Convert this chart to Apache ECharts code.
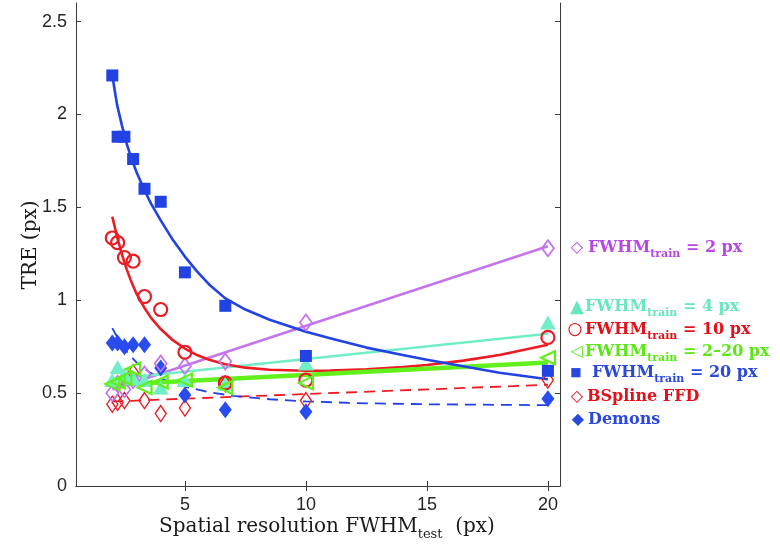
<!DOCTYPE html>
<html>
<head>
<meta charset="utf-8">
<script src="https://cdn.jsdelivr.net/npm/echarts@6/dist/echarts.min.js"></script>
<style>html,body{margin:0;padding:0;background:#fff;}#c{width:780px;height:553px;}</style>
</head>
<body>
<div id="c"></div>
<script>
// ---- data ----
const xTest = [2, 2.22, 2.5, 2.86, 3.33, 4, 5, 6.67, 10, 20];
const tre2 = [0.50, 0.55, 0.52, 0.57, 0.60, 0.66, 0.645, 0.67, 0.88, 1.28];
const tre4 = [0.57, 0.64, 0.60, 0.58, 0.57, 0.53, 0.57, 0.55, 0.66, 0.88];
const tre10 = [1.335, 1.31, 1.23, 1.21, 1.02, 0.95, 0.72, 0.555, 0.57, 0.80];
const tre2to20 = [0.55, 0.56, 0.58, 0.63, 0.53, 0.56, 0.57, 0.53, 0.555, 0.69];
const tre20 = [2.21, 1.88, 1.88, 1.76, 1.60, 1.53, 1.15, 0.97, 0.70, 0.62];
const treBspline = [0.44, 0.45, 0.46, 0.61, 0.46, 0.39, 0.42, 0.55, 0.46, 0.57];
const treDemons = [0.77, 0.77, 0.75, 0.76, 0.76, 0.635, 0.49, 0.41, 0.40, 0.47];

// fitted trend curves
const fitX20 = [2, 2.2, 2.4, 2.6, 2.8, 3.0, 3.3, 3.6, 4, 4.5, 5, 5.5, 6, 6.67, 7.5, 8.5, 10, 11, 12.5, 14, 15, 16.5, 18, 20];
const fit20 = [2.21, 2.05, 1.94, 1.84, 1.76, 1.69, 1.60, 1.52, 1.43, 1.325, 1.235, 1.155, 1.085, 1.01, 0.95, 0.895, 0.83, 0.795, 0.745, 0.705, 0.68, 0.645, 0.61, 0.575];
const fitX10 = [2, 2.2, 2.4, 2.6, 2.8, 3.0, 3.3, 3.6, 4, 4.5, 5, 5.5, 6, 6.67, 7.5, 8.5, 10, 11, 12.5, 14, 15, 16.5, 18, 20];
const fit10 = [1.45, 1.34, 1.245, 1.165, 1.095, 1.035, 0.965, 0.905, 0.845, 0.785, 0.74, 0.705, 0.68, 0.655, 0.637, 0.626, 0.62, 0.621, 0.628, 0.64, 0.651, 0.675, 0.705, 0.76];
const fitXDemons = [2, 2.25, 2.5, 2.75, 3, 3.5, 4, 4.5, 5, 6, 7, 8.5, 10, 12.5, 15, 20];
const fitDemons = [0.85, 0.79, 0.74, 0.70, 0.665, 0.615, 0.58, 0.555, 0.535, 0.505, 0.485, 0.467, 0.455, 0.445, 0.44, 0.435];
const fitXLin = [2, 20];
const fit2 = [0.52, 1.29];
const fit4 = [0.575, 0.82];
const fit2to20 = [0.545, 0.665];
const fitBspline = [0.455, 0.545];

const xTicks = [5, 10, 15, 20];
const yTicks = [0, 0.5, 1, 1.5, 2, 2.5];

const C = {
  violet: '#c474ec', teal: '#72eec6', red: '#ec1c24', green: '#62f01c',
  blue: '#2242e4', demons: '#2a4cee'
};

function pairs(xs, ys) { return xs.map((x, i) => [x, ys[i]]); }

const tickFont = { fontFamily: 'Liberation Sans', fontSize: 18, color: '#262626' };

function fitLine(xs, ys, color, width, dashed) {
  return {
    type: 'line', data: pairs(xs, ys), showSymbol: false, smooth: false,
    lineStyle: { color: color, width: width, type: dashed ? [11, 7] : 'solid', join: 'round', cap: 'butt' },
    silent: true, z: 2
  };
}
function marks(ys, symbol, size, fill, border, bw, rotate) {
  return {
    type: 'scatter', data: pairs(xTest, ys), symbol: symbol, symbolSize: size,
    symbolRotate: rotate || 0,
    itemStyle: { color: fill, borderColor: border, borderWidth: bw, opacity: 1 },
    silent: true, z: 3
  };
}

const series = [
  fitLine(fitXLin, fitBspline, C.red, 1.8, true),
  fitLine(fitXDemons, fitDemons, C.blue, 1.8, true),
  fitLine(fitXLin, fit2, C.violet, 2.6, false),
  fitLine(fitXLin, fit4, C.teal, 2.6, false),
  fitLine(fitX10, fit10, C.red, 2.6, false),
  fitLine(fitXLin, fit2to20, C.green, 4.5, false),
  fitLine(fitX20, fit20, C.blue, 2.6, false),
  marks(treBspline, 'diamond', [11, 16], 'transparent', C.red, 1.4),
  marks(treDemons, 'diamond', [13, 17], C.demons, C.demons, 0),
  marks(tre2, 'diamond', [12, 16], 'transparent', C.violet, 1.8),
  marks(tre4, 'triangle', [16, 14], C.teal, C.teal, 0),
  marks(tre10, 'circle', 13, 'transparent', C.red, 2.2),
  marks(tre2to20, 'triangle', [13, 14], 'transparent', C.green, 2.2, 90),
  marks(tre20, 'rect', 12, C.blue, C.blue, 0)
];

function legendEntry(sym, symSize, symX, textX, y, color, main, sub, rest) {
  const items = [{
    type: 'text', x: symX, y: y, silent: true,
    style: { text: sym, fill: color, fontFamily: 'DejaVu Sans', fontSize: symSize,
             textAlign: 'center', textVerticalAlign: 'middle' }
  }];
  let txt = '{m|' + main + '}';
  if (sub) txt += '{b|' + sub + '}';
  if (rest) txt += '{m|' + rest + '}';
  items.push({
    type: 'text', x: textX, y: y, silent: true,
    style: {
      text: txt, textAlign: 'left', textVerticalAlign: 'middle',
      rich: {
        m: { fill: color, fontFamily: 'DejaVu Serif', fontWeight: 'bold', fontSize: 16, lineHeight: 24 },
        b: { fill: color, fontFamily: 'DejaVu Serif', fontWeight: 'bold', fontSize: 11, lineHeight: 12, verticalAlign: 'bottom' }
      }
    }
  });
  return items;
}

const legendGraphics = [].concat(
  legendEntry('\u25C7', 16, 577, 588, 248, '#b548e6', 'FWHM', 'train', ' = 2 px'),
  legendEntry('\u25B2', 18, 577, 585, 307, '#68e6bd', 'FWHM', 'train', ' = 4 px'),
  legendEntry('\u25CB', 17, 575, 585, 330, '#e3121a', 'FWHM', 'train', ' = 10 px'),
  legendEntry('\u25C1', 16, 577, 585, 352, '#5ce818', 'FWHM', 'train', ' = 2\u201320 px'),
  legendEntry('\u25A0', 12, 576, 592, 373, '#2a48dc', 'FWHM', 'train', ' = 20 px'),
  legendEntry('\u25C7', 16, 577, 587, 397, '#e3121a', 'BSpline FFD', '', ''),
  legendEntry('\u25C6', 16, 578, 588, 420, '#2a48dc', 'Demons', '', '')
);

const titles = [
  {
    type: 'text', x: 327, y: 527, silent: true,
    style: {
      text: '{m|Spatial resolution FWHM}{b|test}{m|  (px)}',
      textAlign: 'center', textVerticalAlign: 'middle',
      rich: {
        m: { fill: '#1a1a1a', fontFamily: 'DejaVu Serif', fontSize: 20, lineHeight: 28 },
        b: { fill: '#1a1a1a', fontFamily: 'DejaVu Serif', fontSize: 13, lineHeight: 14, verticalAlign: 'bottom' }
      }
    }
  },
  {
    type: 'text', x: 31, y: 245, rotation: Math.PI / 2, silent: true,
    style: { text: 'TRE (px)', fill: '#1a1a1a', fontFamily: 'DejaVu Serif', fontSize: 20,
             textAlign: 'center', textVerticalAlign: 'middle' }
  }
];

const axisLineStyle = { show: true, lineStyle: { color: '#3a3a3a', width: 1 } };

const option = {
  animation: false,
  backgroundColor: '#fff',
  grid: { left: 76, right: 220, top: 3, bottom: 67, containLabel: false },
  xAxis: [
    { type: 'value', min: 0.5, max: 20.5, position: 'bottom',
      axisLine: axisLineStyle,
      axisTick: { show: true, inside: true, length: 5, customValues: xTicks, lineStyle: { color: '#3a3a3a' } },
      axisLabel: Object.assign({ customValues: xTicks, margin: 10 }, tickFont),
      splitLine: { show: false } },
    { type: 'value', min: 0.5, max: 20.5, position: 'top',
      axisLine: axisLineStyle,
      axisTick: { show: true, inside: true, length: 5, customValues: xTicks, lineStyle: { color: '#3a3a3a' } },
      axisLabel: { show: false }, splitLine: { show: false } }
  ],
  yAxis: [
    { type: 'value', min: 0, max: 2.6, position: 'left',
      axisLine: axisLineStyle,
      axisTick: { show: true, inside: true, length: 5, customValues: yTicks, lineStyle: { color: '#3a3a3a' } },
      axisLabel: Object.assign({ customValues: yTicks, margin: 9, formatter: v => String(v) }, tickFont),
      splitLine: { show: false } },
    { type: 'value', min: 0, max: 2.6, position: 'right',
      axisLine: axisLineStyle,
      axisTick: { show: true, inside: true, length: 5, customValues: yTicks, lineStyle: { color: '#3a3a3a' } },
      axisLabel: { show: false }, splitLine: { show: false } }
  ],
  series: series,
  graphic: legendGraphics.concat(titles)
};

const chart = echarts.init(document.getElementById('c'), null, { renderer: 'canvas' });
chart.setOption(option);
</script>
</body>
</html>
